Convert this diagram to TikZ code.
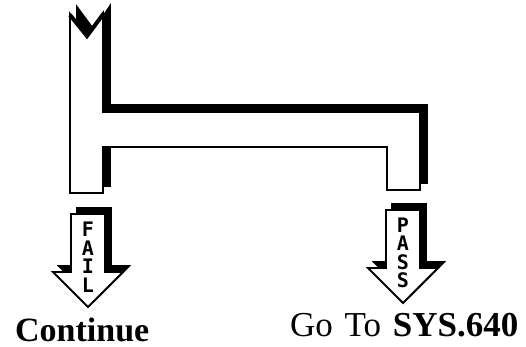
\documentclass[tikz,border=0pt]{standalone}
\usepackage{fontspec}
\setmainfont{Liberation Serif}
\newfontfamily\stencilfont{DejaVu Sans Mono}
\usepackage{tikz}

% outline of the branch block and of one down arrow
\newcommand{\branchpath}{(70,14) -- (87,37) -- (103,13) -- (103,112) -- (420,112) -- (420,190) -- (387,190) -- (387,147) -- (103,147) -- (103,193) -- (70,193) -- cycle}
\newcommand{\arrowpath}{(-17,0) -- (17,0) -- (17,58) -- (35,58) -- (0,93) -- (-35,58) -- (-17,58) -- cycle}

\begin{document}
\begin{tikzpicture}[x=1pt, y=-1pt,
  shadow/.style={fill=black, draw=black, line width=1.8pt, line join=miter},
  plate/.style={fill=white, draw=black, line width=1.8pt, line join=miter},
  notch/.style={draw=black, line width=4pt, line join=miter},
  letters/.style={font=\stencilfont\bfseries\fontsize{20}{18.5}\selectfont,
                  align=center, inner sep=0pt},
  caption/.style={font=\fontsize{34}{36}\selectfont, anchor=base west, inner sep=0pt},
]
  \useasboundingbox (0,0) rectangle (526,347);

  % branch block
  \draw[shadow, shift={(7,-7)}] \branchpath;
  \draw[plate] \branchpath;
  \draw[notch] (70,15) -- (87,36) -- (104,13);

  % fail exit
  \begin{scope}[shift={(88,214)}]
    \draw[shadow, shift={(6,-6)}] \arrowpath;
    \draw[plate] \arrowpath;
    \node[letters] (fail) at (0,43) {F\\A\\I\\L};
  \end{scope}

  % pass exit
  \begin{scope}[shift={(403,210)}]
    \draw[shadow, shift={(6,-6)}] \arrowpath;
    \draw[plate] \arrowpath;
    \node[letters] (pass) at (0,43) {P\\A\\S\\S};
  \end{scope}

  \node[caption, font=\bfseries\fontsize{34}{36}\selectfont] (cont) at (15,341) {Continue};
  \node[caption, font=\fontsize{35}{36}\selectfont] (goto) at (290,336) {Go\hspace{3pt} To\hspace{3pt} \textbf{SYS.640}};
\end{tikzpicture}
\end{document}
